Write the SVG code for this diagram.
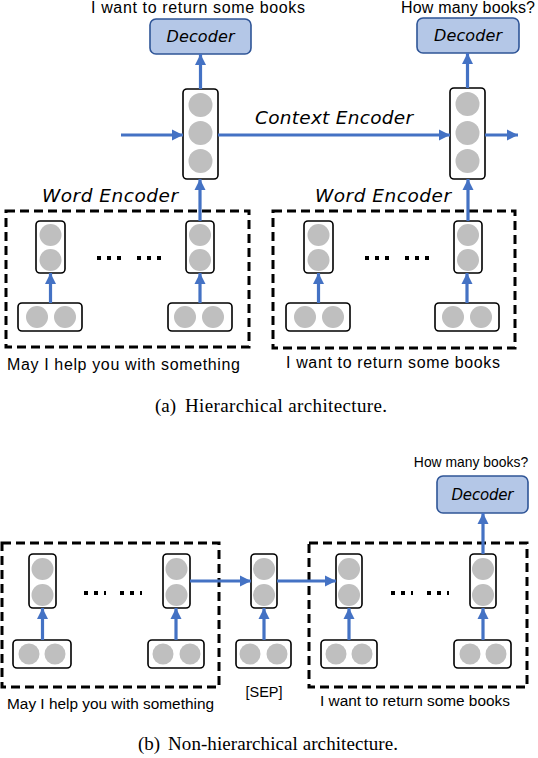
<svg xmlns="http://www.w3.org/2000/svg" width="538" height="758" viewBox="0 0 538 758">
<defs>
<marker id="ah" markerUnits="userSpaceOnUse" markerWidth="12" markerHeight="12" viewBox="0 0 12 12" refX="11" refY="6" orient="auto">
<path d="M0,0.5 L11,6 L0,11.5 Z" fill="#4472c4"/>
</marker>
<style>
.col{fill:#fff;stroke:#000;stroke-width:1.6}
.c{fill:#bfbfbf}
.dash{fill:none;stroke:#000;stroke-width:3;stroke-dasharray:9,5}
.dec{fill:#b4c7e7;stroke:#2f5597;stroke-width:1.6}
.dt{font-family:"DejaVu Sans",sans-serif;font-style:italic;font-size:16px;fill:#000}
.lbl{font-family:"DejaVu Sans",sans-serif;font-style:italic;font-size:18.5px;fill:#000}
.txt{font-family:"Liberation Sans",Arial,sans-serif;font-size:16px;fill:#000}
.sm{font-size:15.4px}
.cap{font-family:"Liberation Serif","Times New Roman",serif;font-size:19px;fill:#000}
.a{stroke:#4472c4;stroke-width:3.2;fill:none;marker-end:url(#ah)}
.dots{stroke:#000;stroke-width:4;stroke-dasharray:4,6;fill:none}
</style>
</defs>

<!-- ===== (a) Hierarchical ===== -->
<text class="txt" x="198" y="13" text-anchor="middle" textLength="214">I want to return some books</text>
<text class="txt" x="468" y="13" text-anchor="middle" textLength="134">How many books?</text>

<g id="decoder-a1"><rect class="dec" x="150" y="19" width="101" height="35" rx="6"/><text class="dt" x="200.5" y="42" text-anchor="middle" textLength="68">Decoder</text></g>
<g id="decoder-a2"><rect class="dec" x="417" y="18" width="102" height="35" rx="6"/><text class="dt" x="468" y="41" text-anchor="middle" textLength="68">Decoder</text></g>

<g id="ctx-a1"><rect class="col" x="183" y="89" width="35" height="90" rx="4"/><circle class="c" cx="200.5" cy="105" r="12"/><circle class="c" cx="200.5" cy="133" r="12"/><circle class="c" cx="200.5" cy="161" r="12"/></g>
<g id="ctx-a2"><rect class="col" x="450" y="88" width="35" height="91" rx="4"/><circle class="c" cx="467.5" cy="104" r="12"/><circle class="c" cx="467.5" cy="133" r="12"/><circle class="c" cx="467.5" cy="161" r="12"/></g>

<text class="lbl" x="255" y="124" textLength="158">Context Encoder</text>
<text class="lbl" x="42" y="202" textLength="136">Word Encoder</text>
<text class="lbl" x="315" y="202" textLength="136">Word Encoder</text>

<g id="word-a1">
<rect class="dash" x="6" y="211" width="243" height="136"/>
<rect class="col" x="36" y="221" width="29" height="52" rx="4"/><circle class="c" cx="50.5" cy="235" r="11"/><circle class="c" cx="50.5" cy="260" r="11"/>
<rect class="col" x="186" y="221" width="28" height="52" rx="4"/><circle class="c" cx="200" cy="235" r="11"/><circle class="c" cx="200" cy="260" r="11"/>
<rect class="col" x="18" y="303" width="64" height="28" rx="4"/><circle class="c" cx="37" cy="317" r="11"/><circle class="c" cx="65" cy="317" r="11"/>
<rect class="col" x="168" y="303" width="64" height="28" rx="4"/><circle class="c" cx="185" cy="317" r="11"/><circle class="c" cx="213" cy="317" r="11"/>
<path class="dots" d="M97,258 H121 M137,258 H161"/>
</g>
<g id="word-a2">
<rect class="dash" x="273" y="211" width="242" height="137"/>
<rect class="col" x="304" y="221" width="29" height="52" rx="4"/><circle class="c" cx="318.5" cy="235" r="11"/><circle class="c" cx="318.5" cy="260" r="11"/>
<rect class="col" x="454" y="221" width="28" height="52" rx="4"/><circle class="c" cx="468" cy="235" r="11"/><circle class="c" cx="468" cy="260" r="11"/>
<rect class="col" x="286" y="303" width="64" height="28" rx="4"/><circle class="c" cx="305" cy="317" r="11"/><circle class="c" cx="333" cy="317" r="11"/>
<rect class="col" x="435" y="303" width="64" height="28" rx="4"/><circle class="c" cx="453" cy="317" r="11"/><circle class="c" cx="481" cy="317" r="11"/>
<path class="dots" d="M365,258 H389 M405,258 H429"/>
</g>

<text class="txt" x="7" y="370" textLength="233">May I help you with something</text>
<text class="txt" x="286" y="368" textLength="214">I want to return some books</text>

<text class="cap" x="155" y="412">(a)</text>
<text class="cap" x="185" y="412" textLength="202">Hierarchical architecture.</text>

<!-- ===== (b) Non-hierarchical ===== -->
<text class="txt" x="471" y="467" text-anchor="middle" style="font-size:13.9px">How many books?</text>
<g id="decoder-b"><rect class="dec" x="437" y="476" width="91" height="37" rx="6"/><text class="dt" x="482.5" y="500" text-anchor="middle" textLength="62" style="font-size:15px">Decoder</text></g>

<g id="word-b1">
<rect class="dash" x="2" y="543" width="217" height="144"/>
<rect class="col" x="29" y="554" width="27" height="54" rx="4"/><circle class="c" cx="42.5" cy="569" r="11"/><circle class="c" cx="42.5" cy="595" r="11"/>
<rect class="col" x="163" y="554" width="27" height="54" rx="4"/><circle class="c" cx="176.5" cy="569" r="11"/><circle class="c" cx="176.5" cy="595" r="11"/>
<rect class="col" x="13" y="640" width="58" height="28" rx="4"/><circle class="c" cx="29" cy="654" r="10.5"/><circle class="c" cx="55" cy="654" r="10.5"/>
<rect class="col" x="148" y="640" width="56" height="28" rx="4"/><circle class="c" cx="163" cy="654" r="10.5"/><circle class="c" cx="190" cy="654" r="10.5"/>
<path class="dots" d="M84,593 H106 M120,593 H142"/>
</g>

<g id="sep">
<rect class="col" x="251" y="554" width="26" height="54" rx="4"/><circle class="c" cx="264" cy="569" r="11"/><circle class="c" cx="264" cy="595" r="11"/>
<rect class="col" x="236" y="640" width="55" height="28" rx="4"/><circle class="c" cx="250" cy="654" r="10.5"/><circle class="c" cx="277" cy="654" r="10.5"/>
<text class="txt" x="264" y="697" text-anchor="middle" style="font-size:14.5px">[SEP]</text>
</g>

<g id="word-b2">
<rect class="dash" x="309" y="543" width="218" height="144"/>
<rect class="col" x="336" y="554" width="26" height="54" rx="4"/><circle class="c" cx="349" cy="569" r="11"/><circle class="c" cx="349" cy="595" r="11"/>
<rect class="col" x="470" y="554" width="26" height="54" rx="4"/><circle class="c" cx="483" cy="569" r="11"/><circle class="c" cx="483" cy="595" r="11"/>
<rect class="col" x="321" y="640" width="56" height="28" rx="4"/><circle class="c" cx="336" cy="654" r="10.5"/><circle class="c" cx="362" cy="654" r="10.5"/>
<rect class="col" x="454" y="640" width="57" height="28" rx="4"/><circle class="c" cx="470" cy="654" r="10.5"/><circle class="c" cx="496" cy="654" r="10.5"/>
<path class="dots" d="M391,593 H413 M427,593 H449"/>
</g>

<text class="txt sm" x="7" y="709">May I help you with something</text>
<text class="txt sm" x="415" y="706" text-anchor="middle">I want to return some books</text>

<text class="cap" x="138" y="750">(b)</text>
<text class="cap" x="168" y="750" textLength="230">Non-hierarchical architecture.</text>

<!-- connectors -->
<g id="connectors">
<path class="a" d="M200.5,89 V54"/>
<path class="a" d="M467.5,88 V53"/>
<path class="a" d="M121,135 H183"/>
<path class="a" d="M218,135 H450"/>
<path class="a" d="M485,135 H518"/>
<path class="a" d="M200,221 V179"/>
<path class="a" d="M468,221 V179"/>
<path class="a" d="M50.5,303 V273"/>
<path class="a" d="M200,303 V273"/>
<path class="a" d="M318.5,303 V273"/>
<path class="a" d="M467,303 V273"/>
<path class="a" d="M483,554 V513"/>
<path class="a" d="M190,581 H251"/>
<path class="a" d="M277,581 H336"/>
<path class="a" d="M42.5,640 V608"/>
<path class="a" d="M176,640 V608"/>
<path class="a" d="M264,640 V608"/>
<path class="a" d="M349,640 V608"/>
<path class="a" d="M483,640 V608"/>
</g>
</svg>
